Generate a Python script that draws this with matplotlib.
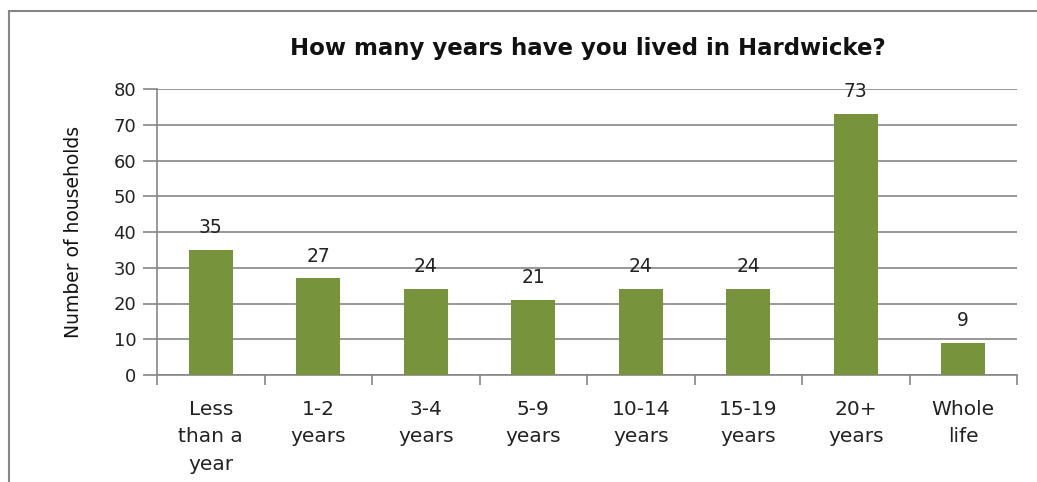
import matplotlib
matplotlib.use("Agg")
import matplotlib.pyplot as plt
from matplotlib.lines import Line2D

categories = ["Less\nthan a\nyear", "1-2\nyears", "3-4\nyears", "5-9\nyears",
              "10-14\nyears", "15-19\nyears", "20+\nyears", "Whole\nlife"]
values = [35, 27, 24, 21, 24, 24, 73, 9]
yticks = [0, 10, 20, 30, 40, 50, 60, 70, 80]
title = "How many years have you lived in Hardwicke?"
ylabel = "Number of households"

W, H = 1037, 482
fig = plt.figure(figsize=(W / 100, H / 100), dpi=100)
ax = fig.add_axes([157 / W, 1 - 375 / H, (1017 - 157) / W, (375 - 89) / H])

x = list(range(len(categories)))
ax.bar(x, values, width=0.41, color="#77933C", zorder=3)
for xi, v in zip(x, values):
    ax.annotate(str(v), (xi, v), xytext=(0, 16), textcoords="offset points",
                ha="center", va="center", fontsize=13.5, color="#222222")

ax.set_xlim(-0.5, len(categories) - 0.5)
ax.set_ylim(0, 80)
ax.set_yticks(yticks)
ax.set_yticklabels([str(t) for t in yticks], fontsize=13, color="#222222")
ax.yaxis.grid(True, color="#868686", linewidth=1.2, zorder=0)
ax.tick_params(axis="y", length=10, width=1.2, color="#868686", pad=5)

ax.set_xticks(x)
ax.set_xticklabels(categories, fontsize=14.5, color="#222222", linespacing=1.55)
ax.tick_params(axis="x", length=0, pad=18)
# boundary tick marks
ax.set_xticks([i - 0.5 for i in range(len(categories) + 1)], minor=True)
ax.tick_params(axis="x", which="minor", length=7, width=1.2, color="#868686")

for s in ["top", "right"]:
    ax.spines[s].set_visible(False)
for s in ["left", "bottom"]:
    ax.spines[s].set_color("#868686")
    ax.spines[s].set_linewidth(1.2)

ax.set_ylabel(ylabel, fontsize=13.5, family=["Liberation Sans Narrow", "DejaVu Sans"],
              color="#111111", labelpad=22)

fig.text(588 / W, 1 - 55 / H, title, ha="center", va="baseline", fontsize=16.5,
         fontweight="bold", color="#111111")

# outer chart border (top and left visible)
fig.add_artist(Line2D([9 / W, 1], [1 - 11 / H, 1 - 11 / H], transform=fig.transFigure,
                      color="#868686", linewidth=1.5))
fig.add_artist(Line2D([9 / W, 9 / W], [0, 1 - 11 / H], transform=fig.transFigure,
                      color="#868686", linewidth=1.5))

fig.savefig("out.png", dpi=100)
